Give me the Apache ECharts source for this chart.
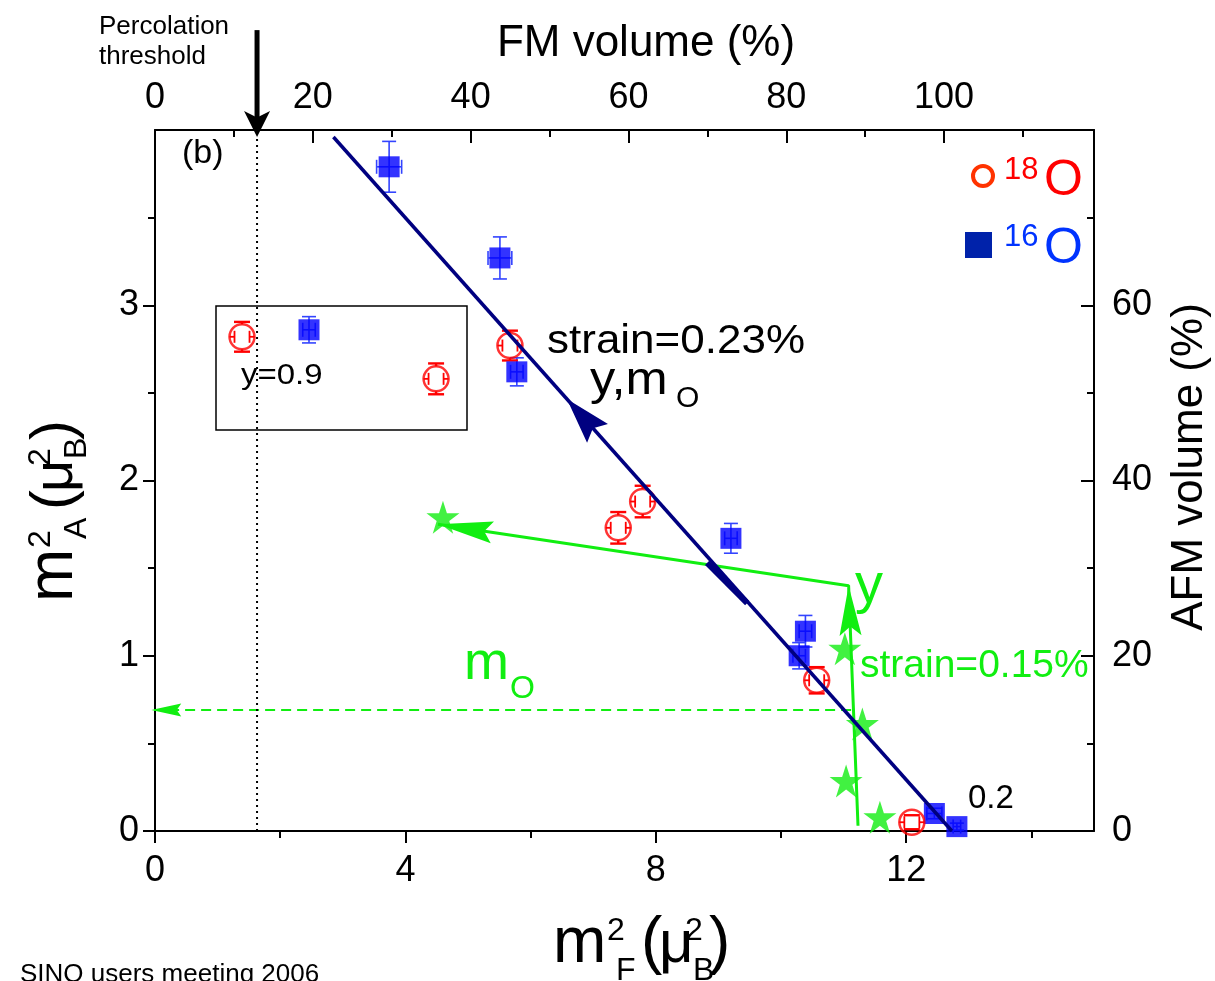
<!DOCTYPE html>
<html><head><meta charset="utf-8">
<script src="https://cdn.jsdelivr.net/npm/echarts@6/dist/echarts.min.js"></script>
<style>html,body{margin:0;padding:0;background:#fff}#c{width:1215px;height:981px}</style>
</head><body><div id="c"></div>
<script>
// ---------------- data ----------------
const o16X    = [3.74, 5.51, 5.78, 9.20, 10.39, 10.29, 12.45, 12.81, 2.46];
const o16Y    = [3.79, 3.27, 2.62, 1.67, 1.14, 1.00, 0.10, 0.025, 2.86];
const o16XErr = [0.20, 0.19, 0.10, 0.10, 0.10, 0.10, 0.12, 0.06, 0.10];
const o16YErr = [0.145, 0.12, 0.08, 0.085, 0.09, 0.075, 0.03, 0.02, 0.075];

const o18X    = [5.67, 7.79, 7.40, 10.57, 12.09, 1.39, 4.49];
const o18Y    = [2.77, 1.88, 1.73, 0.86, 0.05, 2.82, 2.58];
const o18XErr = [0.12, 0.12, 0.12, 0.12, 0.12, 0.12, 0.12];
const o18YErr = [0.085, 0.09, 0.09, 0.075, 0.04, 0.085, 0.088];

const starX = [4.60, 11.02, 11.30, 11.04, 11.58];
const starY = [1.79, 1.04, 0.61, 0.285, 0.078];

const fitX = [2.85, 12.73];
const fitY = [3.96, 0.0];
const fitSegX = [8.82, 9.46];
const fitSegY = [1.53, 1.30];

const greenPathX = [11.23, 11.08, 4.52];
const greenPathY = [0.03, 1.40, 1.75];
const moDashX = [11.12, -0.06];
const moDashY = [0.69, 0.69];

const percX = 1.63;
const percDotY = [0.0, 3.96];
const percShaftY = [4.57, 4.05];

// arrows: [tipX, tipY, fromX, fromY]
const arrowNavy      = [[6.58, 2.465, 8.0, 1.896]];
const arrowGreenUp   = [[11.08, 1.40, 11.23, 0.03]];
const arrowGreenLeft = [[4.52, 1.75, 11.08, 1.40]];
const arrowDash      = [[-0.06, 0.69, 11.12, 0.69]];
const arrowPerc      = [[1.63, 3.96, 1.63, 4.57]];

const bottomTicks = [0, 4, 8, 12];
const bottomMinor = [2, 6, 10, 14];
const leftTicks   = [0, 1, 2, 3];
const leftMinor   = [0.5, 1.5, 2.5, 3.5];
const topTicks    = [0, 20, 40, 60, 80, 100];
const topMinor    = [10, 30, 50, 70, 90, 110];
const rightTicks  = [0, 20, 40, 60];
const rightMinor  = [10, 30, 50, 70];

// ---------------- styles ----------------
const FONT = '"Liberation Sans", Arial, Helvetica, sans-serif';
const GREEN = '#11ee11';
const NAVY = '#000080';
const STAR = 'path://M50,0 L62,36 L100,36 L69,58 L81,95 L50,72 L19,95 L31,58 L0,36 L38,36 Z';

function zip(xs, ys) { return xs.map((x, i) => [x, ys[i]]); }
function seg(a, b, st) { return {type: 'line', shape: {x1: a[0], y1: a[1], x2: b[0], y2: b[1]}, style: st}; }

function blueErr(params, api) {
  const x = api.value(0), y = api.value(1), ex = api.value(2), ey = api.value(3);
  const t = api.coord([x, y + ey]), b = api.coord([x, y - ey]);
  const l = api.coord([x - ex, y]), r = api.coord([x + ex, y]);
  const st = {stroke: '#3344ff', lineWidth: 1.6};
  const cap = 7;
  return {type: 'group', children: [
    seg(t, b, st),
    seg([t[0] - cap, t[1]], [t[0] + cap, t[1]], st),
    seg([b[0] - cap, b[1]], [b[0] + cap, b[1]], st),
    seg(l, r, st),
    seg([l[0], l[1] - cap], [l[0], l[1] + cap], st),
    seg([r[0], r[1] - cap], [r[0], r[1] + cap], st)
  ]};
}

function redErr(params, api) {
  const x = api.value(0), y = api.value(1), ex = api.value(2), ey = api.value(3);
  const c = api.coord([x, y]);
  const t = api.coord([x, y + ey]), b = api.coord([x, y - ey]);
  const l = api.coord([x - ex, y]), r = api.coord([x + ex, y]);
  const R = 12.5, cap = 8, hc = 6;
  const st = {stroke: '#ff0000', lineWidth: 2.4};
  const st2 = {stroke: '#ff0000', lineWidth: 1.8};
  const ch = [];
  if (t[1] < c[1] - R) ch.push(seg([c[0], c[1] - R], t, st));
  ch.push(seg([t[0] - cap, t[1]], [t[0] + cap, t[1]], st));
  if (b[1] > c[1] + R) ch.push(seg([c[0], c[1] + R], b, st));
  ch.push(seg([b[0] - cap, b[1]], [b[0] + cap, b[1]], st));
  ch.push(seg([c[0] - R, c[1]], l, st2));
  ch.push(seg([l[0], l[1] - hc], [l[0], l[1] + hc], st2));
  ch.push(seg([c[0] + R, c[1]], r, st2));
  ch.push(seg([r[0], r[1] - hc], [r[0], r[1] + hc], st2));
  return {type: 'group', children: ch};
}

function arrowRender(L, HW, notch, color) {
  return function (params, api) {
    const tip = api.coord([api.value(0), api.value(1)]);
    const from = api.coord([api.value(2), api.value(3)]);
    let dx = tip[0] - from[0], dy = tip[1] - from[1];
    const d = Math.hypot(dx, dy); dx /= d; dy /= d;
    const px = -dy, py = dx;
    const bx = tip[0] - dx * L, by = tip[1] - dy * L;
    const nx = tip[0] - dx * L * notch, ny = tip[1] - dy * L * notch;
    return {type: 'polygon', shape: {points: [tip, [bx + px * HW, by + py * HW], [nx, ny], [bx - px * HW, by - py * HW]]},
      style: {fill: color}};
  };
}
function arrowSeries(data, L, HW, notch, color) {
  return {type: 'custom', renderItem: arrowRender(L, HW, notch, color), data: data,
    encode: {x: [0, 2], y: [1, 3]}, clip: false, z: 8, silent: true};
}

// ---------------- text helpers ----------------
const BASE_K = 0.27;
function txt(s, x, base, F, color, extra) {
  const o = {type: 'text', x: x, y: base - BASE_K * F,
    style: {text: s, font: F + 'px ' + FONT, fill: color || '#000', textAlign: 'left', textVerticalAlign: 'middle', align: 'left', verticalAlign: 'middle'}};
  return Object.assign(o, extra || {});
}

// ---------------- axes ----------------
const axLine = {show: true, onZero: false, lineStyle: {color: '#000', width: 2}};
const noLine = {show: false, onZero: false};
const lblStyle = {color: '#000', fontSize: 36, fontFamily: FONT};
const tickStyle = {width: 2, color: '#000'};

const xAxes = [
  {gridIndex: 0, type: 'value', position: 'bottom', min: 0, max: 15, interval: 4,
    axisLine: axLine, splitLine: {show: false},
    axisTick: {show: true, inside: false, length: 12, lineStyle: tickStyle, customValues: bottomTicks},
    axisLabel: Object.assign({margin: 22, customValues: bottomTicks}, lblStyle)},
  {gridIndex: 0, type: 'value', position: 'top', min: 0, max: 119, interval: 20,
    axisLine: axLine, splitLine: {show: false},
    axisTick: {show: true, inside: true, length: 13, lineStyle: tickStyle, customValues: topTicks},
    axisLabel: Object.assign({margin: 14, customValues: topTicks}, lblStyle)},
  {gridIndex: 1, type: 'value', position: 'bottom', min: 0, max: 15, interval: 2,
    axisLine: noLine, splitLine: {show: false}, axisLabel: {show: false},
    axisTick: {show: true, inside: false, length: 7, lineStyle: tickStyle, customValues: bottomMinor}},
  {gridIndex: 1, type: 'value', position: 'top', min: 0, max: 119, interval: 10,
    axisLine: noLine, splitLine: {show: false}, axisLabel: {show: false},
    axisTick: {show: true, inside: true, length: 7, lineStyle: tickStyle, customValues: topMinor}}
];
const yAxes = [
  {gridIndex: 0, type: 'value', position: 'left', min: 0, max: 4, interval: 1,
    axisLine: axLine, splitLine: {show: false},
    axisTick: {show: true, inside: false, length: 12, lineStyle: tickStyle, customValues: leftTicks},
    axisLabel: Object.assign({margin: 16, customValues: leftTicks}, lblStyle)},
  {gridIndex: 0, type: 'value', position: 'right', min: 0, max: 80, interval: 20,
    axisLine: axLine, splitLine: {show: false},
    axisTick: {show: true, inside: true, length: 13, lineStyle: tickStyle, customValues: rightTicks},
    axisLabel: Object.assign({margin: 18, customValues: rightTicks}, lblStyle)},
  {gridIndex: 1, type: 'value', position: 'left', min: 0, max: 4, interval: 0.5,
    axisLine: noLine, splitLine: {show: false}, axisLabel: {show: false},
    axisTick: {show: true, inside: false, length: 7, lineStyle: tickStyle, customValues: leftMinor}},
  {gridIndex: 1, type: 'value', position: 'right', min: 0, max: 80, interval: 10,
    axisLine: noLine, splitLine: {show: false}, axisLabel: {show: false},
    axisTick: {show: true, inside: true, length: 7, lineStyle: tickStyle, customValues: rightMinor}}
];

// ---------------- graphic texts ----------------
const graphics = [
  txt('Percolation', 99, 34, 26, '#000'),
  txt('threshold', 99, 64, 26, '#000'),
  txt('(b)', 182, 163, 34, '#000'),
  txt('strain=0.23%', 547, 353, 40, '#000', {scaleX: 1.1}),
  txt('y,m', 590, 394, 46, '#000', {scaleX: 1.1}),
  txt('O', 676, 407, 30, '#000'),
  txt('y', 855, 602, 56, GREEN),
  txt('strain=0.15%', 860, 677, 39, GREEN),
  txt('m', 464, 679, 54, GREEN),
  txt('O', 510, 698, 32, GREEN),
  txt('0.2', 968, 808, 33, '#000'),
  txt('y=0.9', 241, 384, 30, '#000', {scaleX: 1.1}),
  // inset box
  {type: 'rect', shape: {x: 216, y: 306, width: 251, height: 124}, style: {fill: 'none', stroke: '#000', lineWidth: 1.5}, z: 1},
  // legend
  {type: 'circle', shape: {cx: 983, cy: 176, r: 10}, style: {fill: 'none', stroke: '#ff3300', lineWidth: 4}},
  txt('18', 1004, 179, 31, '#ff0000'),
  txt('O', 1044, 195, 50, '#ff0000'),
  {type: 'rect', shape: {x: 965, y: 232, width: 27, height: 26}, style: {fill: '#0022aa'}},
  txt('16', 1004, 246, 31, '#0033ff'),
  txt('O', 1044, 263, 50, '#0033ff'),
  // top title
  {type: 'text', x: 646, y: 44, style: {text: 'FM volume (%)', font: '44px ' + FONT, fill: '#000', textAlign: 'center', textVerticalAlign: 'middle', align: 'center', verticalAlign: 'middle'}},
  // right title
  {type: 'text', x: 1190, y: 467, rotation: Math.PI / 2, style: {text: 'AFM volume (%)', font: '44px ' + FONT, fill: '#000', textAlign: 'center', textVerticalAlign: 'middle', align: 'center', verticalAlign: 'middle'}},
  // bottom title  m^2_F (mu^2_B)
  {type: 'group', x: 553, y: 962, children: [
    txt('m', 0, 0, 64, '#000'),
    txt('2', 54, -22, 32, '#000'),
    txt('F', 63, 18, 32, '#000'),
    txt('(', 88, 0, 64, '#000'),
    txt('\u03bc', 106, 0, 60, '#000'),
    txt('2', 132, -22, 32, '#000'),
    txt('B', 140, 18, 32, '#000'),
    txt(')', 156, 0, 64, '#000')
  ]},
  // left title  m^2_A (mu^2_B), rotated
  {type: 'group', x: 72, y: 602, rotation: Math.PI / 2, children: [
    txt('m', 0, 0, 64, '#000'),
    txt('2', 54, -22, 32, '#000'),
    txt('A', 63, 14, 32, '#000'),
    txt('(', 92, 0, 60, '#000'),
    txt('\u03bc', 110, 0, 56, '#000'),
    txt('2', 136, -22, 32, '#000'),
    txt('B', 143, 14, 32, '#000'),
    txt(')', 162, 0, 60, '#000')
  ]},
  txt('SINQ users meeting 2006', 20, 982, 26, '#000')
];

// ---------------- chart ----------------
const gridBox = {left: 155, top: 130, width: 939, height: 701, containLabel: false, outerBoundsMode: 'none'};
const chart = echarts.init(document.getElementById('c'), null, {renderer: 'canvas'});
chart.setOption({
  animation: false,
  backgroundColor: '#fff',
  grid: [Object.assign({}, gridBox), Object.assign({}, gridBox)],
  xAxis: xAxes,
  yAxis: yAxes,
  graphic: graphics,
  series: [
    {type: 'custom', name: '16O errors', renderItem: blueErr,
      data: o16X.map((x, i) => [x, o16Y[i], o16XErr[i], o16YErr[i]]), encode: {x: 0, y: 1}, z: 2, clip: false, silent: true},
    {type: 'scatter', name: '16O', data: zip(o16X, o16Y), symbol: 'rect', symbolSize: 21,
      itemStyle: {color: '#0000ff'}, z: 3, silent: true},
    {type: 'custom', name: '18O errors', renderItem: redErr,
      data: o18X.map((x, i) => [x, o18Y[i], o18XErr[i], o18YErr[i]]), encode: {x: 0, y: 1}, z: 2, clip: false, silent: true},
    {type: 'scatter', name: '18O', data: zip(o18X, o18Y), symbol: 'circle', symbolSize: 25,
      itemStyle: {color: 'rgba(255,255,255,0)', borderColor: '#ff0000', borderWidth: 2.5}, z: 3, silent: true},
    {type: 'line', name: 'strain 0.15%', data: zip(greenPathX, greenPathY), symbol: 'none',
      lineStyle: {color: GREEN, width: 3}, z: 3, clip: false, silent: true},
    {type: 'scatter', name: 'stars', data: zip(starX, starY), symbol: STAR, symbolSize: 33,
      itemStyle: {color: GREEN}, z: 4, silent: true},
    {type: 'line', name: 'mO', data: zip(moDashX, moDashY), symbol: 'none',
      lineStyle: {color: GREEN, width: 2, type: [10, 6]}, z: 3, clip: false, silent: true},
    {type: 'line', name: 'fit', data: zip(fitX, fitY), symbol: 'none',
      lineStyle: {color: NAVY, width: 3.5}, z: 6, silent: true},
    {type: 'line', name: 'fitSeg', data: zip(fitSegX, fitSegY), symbol: 'none',
      lineStyle: {color: NAVY, width: 6}, z: 6, silent: true},
    {type: 'line', name: 'percolation', data: [[percX, percDotY[0]], [percX, percDotY[1]]], symbol: 'none',
      lineStyle: {color: '#000', width: 2, type: [2, 4]}, z: 3, silent: true},
    {type: 'line', name: 'percolation arrow', data: [[percX, percShaftY[0]], [percX, percShaftY[1]]], symbol: 'none',
      lineStyle: {color: '#000', width: 5}, z: 7, clip: false, silent: true},
    arrowSeries(arrowNavy, 46, 14, 0.85, NAVY),
    arrowSeries(arrowGreenUp, 50, 11, 0.82, GREEN),
    arrowSeries(arrowGreenLeft, 55, 11, 0.85, GREEN),
    arrowSeries(arrowDash, 30, 6.5, 0.85, GREEN),
    arrowSeries(arrowPerc, 26, 13, 0.75, '#000')
  ]
});
</script>
</body></html>
